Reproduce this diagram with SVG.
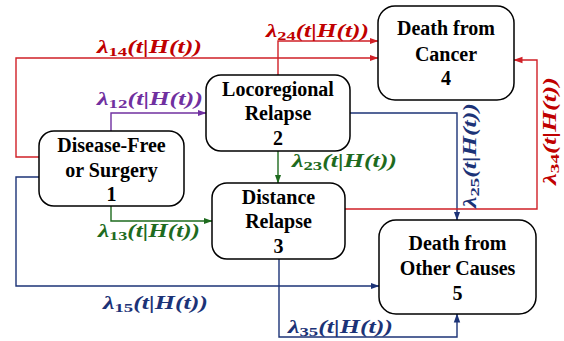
<svg xmlns="http://www.w3.org/2000/svg" width="564" height="341" viewBox="0 0 564 341">
<style>
.box{fill:#fff;stroke:#000;stroke-width:1.5}
.nt{font-family:'Liberation Serif','Times New Roman',serif;font-weight:bold;font-size:20px;text-anchor:middle;fill:#000}
.ln{fill:none;stroke-width:1.4}
.lb{font-family:'Liberation Serif','Times New Roman',serif;font-weight:bold;font-style:italic;font-size:18px}
.sb{font-style:normal;font-size:13px}
.red{stroke:#D02027}.pur{stroke:#7030A0}.grn{stroke:#1E6B1E}.nav{stroke:#1C3377}
.tred{fill:#C00000}.tpur{fill:#7030A0}.tgrn{fill:#1E6B1E}.tnav{fill:#1C3377}
</style>
<defs>
<marker id="ar" markerWidth="9" markerHeight="8" refX="8.5" refY="4" orient="auto" markerUnits="userSpaceOnUse"><path d="M0,0.8 L9,4 L0,7.2 Z" fill="#D02027"/></marker>
<marker id="ap" markerWidth="9" markerHeight="8" refX="8.5" refY="4" orient="auto" markerUnits="userSpaceOnUse"><path d="M0,0.8 L9,4 L0,7.2 Z" fill="#7030A0"/></marker>
<marker id="ag" markerWidth="9" markerHeight="8" refX="8.5" refY="4" orient="auto" markerUnits="userSpaceOnUse"><path d="M0,0.8 L9,4 L0,7.2 Z" fill="#1E6B1E"/></marker>
<marker id="an" markerWidth="9" markerHeight="8" refX="8.5" refY="4" orient="auto" markerUnits="userSpaceOnUse"><path d="M0,0.8 L9,4 L0,7.2 Z" fill="#1C3377"/></marker>
</defs>
<g id="connectors">
<polyline class="ln red" points="39,157 16,157 16,58 378,58" marker-end="url(#ar)"/>
<polyline class="ln red" points="278,75 278,41 378,41" marker-end="url(#ar)"/>
<polyline class="ln pur" points="111,131 111,113 206,113" marker-end="url(#ap)"/>
<polyline class="ln grn" points="278,151 278,183" marker-end="url(#ag)"/>
<polyline class="ln grn" points="111,206 111,221 212,221" marker-end="url(#ag)"/>
<polyline class="ln nav" points="39,177 16,177 16,286 379,286" marker-end="url(#an)"/>
<polyline class="ln nav" points="279,259 279,337 457,337 457,314" marker-end="url(#an)"/>
<polyline class="ln nav" points="350,113 457,113 457,220" marker-end="url(#an)"/>
<polyline class="ln red" points="345,209 537,209 537,60 514,60" marker-end="url(#ar)"/>
<text class="lb tred" x="97" y="53" textLength="105" lengthAdjust="spacingAndGlyphs">λ<tspan class="sb" dy="3">14</tspan><tspan dy="-3">(t|H(t))</tspan></text>
<text class="lb tred" x="266" y="37" textLength="103" lengthAdjust="spacingAndGlyphs">λ<tspan class="sb" dy="3">24</tspan><tspan dy="-3">(t|H(t))</tspan></text>
<text class="lb tpur" x="97" y="105" textLength="106" lengthAdjust="spacingAndGlyphs">λ<tspan class="sb" dy="3">12</tspan><tspan dy="-3">(t|H(t))</tspan></text>
<text class="lb tgrn" x="292" y="167" textLength="105" lengthAdjust="spacingAndGlyphs">λ<tspan class="sb" dy="3">23</tspan><tspan dy="-3">(t|H(t))</tspan></text>
<text class="lb tgrn" x="98" y="237" textLength="102" lengthAdjust="spacingAndGlyphs">λ<tspan class="sb" dy="3">13</tspan><tspan dy="-3">(t|H(t))</tspan></text>
<text class="lb tnav" x="103" y="309" textLength="105" lengthAdjust="spacingAndGlyphs">λ<tspan class="sb" dy="3">15</tspan><tspan dy="-3">(t|H(t))</tspan></text>
<text class="lb tnav" x="288" y="333" textLength="105" lengthAdjust="spacingAndGlyphs">λ<tspan class="sb" dy="3">35</tspan><tspan dy="-3">(t|H(t))</tspan></text>
<text class="lb tnav" transform="translate(476,208) rotate(-90)" x="0" y="0" textLength="105" lengthAdjust="spacingAndGlyphs">λ<tspan class="sb" dy="3">25</tspan><tspan dy="-3">(t|H(t))</tspan></text>
<text class="lb tred" transform="translate(556,185) rotate(-90)" x="0" y="0" textLength="108" lengthAdjust="spacingAndGlyphs">λ<tspan class="sb" dy="3">34</tspan><tspan dy="-3">(t|H(t))</tspan></text>
</g>
<g id="node1">
<rect class="box" x="39" y="131" width="145" height="75" rx="15"/>
<text class="nt" x="111.5" y="152">Disease-Free</text>
<text class="nt" x="111.5" y="177">or Surgery</text>
<text class="nt" x="111.5" y="201">1</text>
</g>
<g id="node2">
<rect class="box" x="206" y="75" width="144" height="76" rx="15"/>
<text class="nt" x="278" y="96">Locoregional</text>
<text class="nt" x="278" y="120">Relapse</text>
<text class="nt" x="278" y="145">2</text>
</g>
<g id="node3">
<rect class="box" x="212" y="183" width="133" height="76" rx="15"/>
<text class="nt" x="278.5" y="204">Distance</text>
<text class="nt" x="278.5" y="228">Relapse</text>
<text class="nt" x="278.5" y="253">3</text>
</g>
<g id="node4">
<rect class="box" x="378" y="6" width="136" height="94" rx="17"/>
<text class="nt" x="446" y="35">Death from</text>
<text class="nt" x="446" y="61">Cancer</text>
<text class="nt" x="446" y="85">4</text>
</g>
<g id="node5">
<rect class="box" x="379" y="220" width="157" height="94" rx="17"/>
<text class="nt" x="457.5" y="250">Death from</text>
<text class="nt" x="457.5" y="275">Other Causes</text>
<text class="nt" x="457.5" y="300">5</text>
</g>
</svg>
